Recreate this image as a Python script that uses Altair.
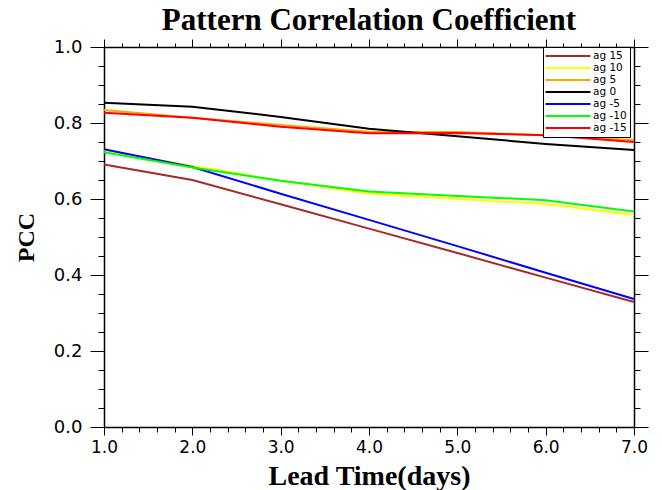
import altair as alt
import pandas as pd

days = [1, 2, 3, 4, 5, 6, 7]
labels = ["ag 15", "ag 10", "ag 5", "ag 0", "ag -5", "ag -10", "ag -15"]
colors = ["#a52a2a", "#ffff00", "#ffa500", "#000000", "#0000ff", "#00ff00", "#ff0000"]

ag_p15 = [0.691, 0.650, 0.586, 0.522, 0.458, 0.393, 0.329]
ag_p10 = [0.729, 0.687, 0.648, 0.615, 0.600, 0.587, 0.558]
ag_p5 = [0.834, 0.814, 0.795, 0.777, 0.776, 0.768, 0.755]
ag_0 = [0.853, 0.843, 0.816, 0.785, 0.765, 0.745, 0.729]
ag_m5 = [0.731, 0.684, 0.614, 0.545, 0.476, 0.406, 0.337]
ag_m10 = [0.723, 0.683, 0.648, 0.620, 0.608, 0.597, 0.567]
ag_m15 = [0.827, 0.814, 0.790, 0.773, 0.774, 0.768, 0.750]

series = [ag_p15, ag_p10, ag_p5, ag_0, ag_m5, ag_m10, ag_m15]

x_ticks = [1.0, 1.2, 1.4, 1.6, 1.8, 2.0, 2.2, 2.4, 2.6, 2.8, 3.0, 3.2, 3.4, 3.6, 3.8,
           4.0, 4.2, 4.4, 4.6, 4.8, 5.0, 5.2, 5.4, 5.6, 5.8, 6.0, 6.2, 6.4, 6.6, 6.8, 7.0]
y_ticks = [0.0, 0.05, 0.1, 0.15, 0.2, 0.25, 0.3, 0.35, 0.4, 0.45, 0.5, 0.55, 0.6,
           0.65, 0.7, 0.75, 0.8, 0.85, 0.9, 0.95, 1.0]

rows = []
for lab, vals in zip(labels, series):
    for d, v in zip(days, vals):
        rows.append({"day": d, "pcc": v, "run": lab})
df = pd.DataFrame(rows)

major_x = "abs(datum.value - round(datum.value)) < 0.001"
major_y = "abs(datum.value*5 - round(datum.value*5)) < 0.001"

common = dict(grid=False, domainColor="black", domainWidth=1.5, tickColor="black",
              tickWidth=1, labelOverlap=False, labelFlush=False)

x_bottom = alt.Axis(orient="bottom", values=x_ticks,
                    labelExpr=f"{major_x} ? format(datum.value, '.1f') : ''",
                    tickSize={"condition": {"test": major_x, "value": 8}, "value": 5},
                    labelFont="DejaVu Sans", labelFontSize=17, labelColor="black",
                    labelPadding=4, title="Lead Time(days)", titleFont="Liberation Serif",
                    titleFontSize=28, titleFontWeight="bold", titleColor="black",
                    titleY=57, titleBaseline="alphabetic", **common)
y_left = alt.Axis(orient="left", values=y_ticks,
                  labelExpr=f"{major_y} ? format(datum.value, '.1f') : ''",
                  tickSize={"condition": {"test": major_y, "value": 14}, "value": 6},
                  labelFont="DejaVu Sans", labelFontSize=18, labelColor="black",
                  labelPadding=8, title="PCC", titleFont="Liberation Serif",
                  titleFontSize=24, titleFontWeight="bold", titleColor="black",
                  titleX=-71, titleY=190, titleBaseline="alphabetic", **common)
x_top = alt.Axis(orient="top", values=x_ticks, labels=False, title=None,
                 tickSize={"condition": {"test": major_x, "value": 8}, "value": 4}, **common)
y_right = alt.Axis(orient="right", values=y_ticks, labels=False, title=None,
                   tickSize={"condition": {"test": major_y, "value": 14}, "value": 6}, **common)

xs = alt.Scale(domain=[1, 7], nice=False, zero=False)
ys = alt.Scale(domain=[0, 1], nice=False, zero=False)

lines = alt.Chart(df).mark_line(strokeWidth=2).encode(
    x=alt.X("day:Q", scale=xs, axis=x_bottom),
    y=alt.Y("pcc:Q", scale=ys, axis=y_left),
    color=alt.Color("run:N", scale=alt.Scale(domain=labels, range=colors), sort=labels,
                    legend=alt.Legend(orient="none", legendX=439, legendY=0, title=None,
                                      symbolType="M-4.5,0H4.5", symbolSize=100,
                                      symbolStrokeWidth=2, symbolOffset=16,
                                      labelFont="DejaVu Sans",
                                      labelFontSize=10.5, labelColor="black",
                                      labelOffset=19, rowPadding=-0.5, padding=3,
                                      strokeColor="black", fillColor="white")),
    order=alt.Order("day:Q"),
)

frame = alt.Chart(df).mark_point(opacity=0).encode(
    x=alt.X("day:Q", scale=xs, axis=x_top),
    y=alt.Y("pcc:Q", scale=ys, axis=y_right),
)

chart = alt.layer(lines, frame).resolve_axis(x="independent", y="independent").properties(
    width=530, height=380,
    autosize=alt.AutoSizeParams(type="none"),
    padding={"left": 104, "top": 47, "right": 28, "bottom": 63},
    background="white",
    title=alt.TitleParams("Pattern Correlation Coefficient", font="Liberation Serif",
                          fontSize=31, fontWeight="bold", color="black", anchor="middle",
                          baseline="alphabetic", offset=8, dy=31),
).configure_view(strokeWidth=0)

chart.save("out.html", embed_options={"renderer": "svg", "actions": False})
